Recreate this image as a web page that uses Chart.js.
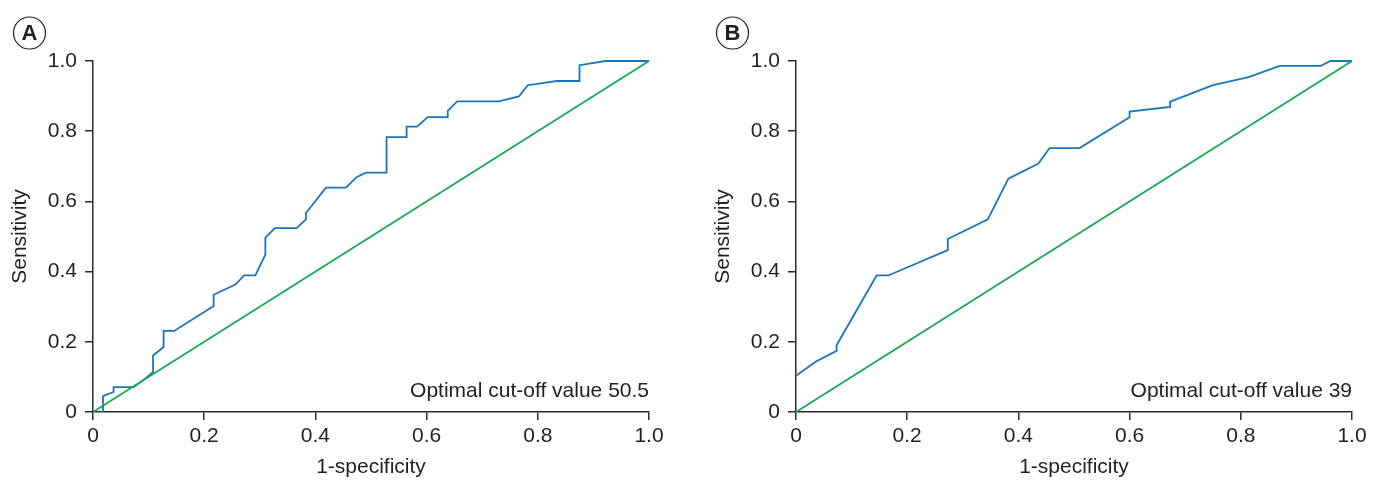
<!DOCTYPE html>
<html>
<head>
<meta charset="utf-8">
<script src="https://cdn.jsdelivr.net/npm/chart.js@4"></script>
<style>
  html, body { margin: 0; padding: 0; background: #fff; overflow: hidden; }
  #wrap { position: relative; width: 1382px; height: 480px; }
  canvas { position: absolute; top: 0; }
  #cA { left: 0; }
  #cB { left: 703px; }
</style>
</head>
<body>
<div id="wrap">
  <canvas id="cA" width="691" height="480"></canvas>
  <canvas id="cB" width="679" height="480"></canvas>
</div>
<script>
// ---- data ----
const tickValues = [0, 0.2, 0.4, 0.6, 0.8, 1.0];
const tickLabels = ['0', '0.2', '0.4', '0.6', '0.8', '1.0'];

const fprA = [0.018, 0.018, 0.037, 0.037, 0.073, 0.094, 0.108, 0.108, 0.127, 0.127, 0.146, 0.217, 0.217, 0.256, 0.272, 0.292, 0.310, 0.310, 0.327, 0.366, 0.383, 0.383, 0.419, 0.455, 0.474, 0.491, 0.528, 0.528, 0.564, 0.564, 0.583, 0.602, 0.638, 0.638, 0.655, 0.730, 0.766, 0.782, 0.834, 0.875, 0.875, 0.922, 1.0];
const tprA = [0, 0.045, 0.057, 0.071, 0.071, 0.095, 0.114, 0.161, 0.185, 0.231, 0.231, 0.302, 0.334, 0.363, 0.389, 0.389, 0.448, 0.497, 0.524, 0.524, 0.549, 0.567, 0.639, 0.639, 0.669, 0.682, 0.682, 0.783, 0.783, 0.813, 0.813, 0.840, 0.840, 0.858, 0.885, 0.885, 0.899, 0.931, 0.943, 0.943, 0.988, 1.0, 1.0];

const fprB = [0, 0.036, 0.073, 0.073, 0.145, 0.166, 0.273, 0.273, 0.345, 0.382, 0.436, 0.456, 0.510, 0.600, 0.600, 0.673, 0.673, 0.750, 0.814, 0.870, 0.944, 0.961, 1.0];
const tprB = [0.103, 0.144, 0.174, 0.190, 0.389, 0.389, 0.461, 0.493, 0.549, 0.665, 0.708, 0.752, 0.752, 0.840, 0.856, 0.869, 0.884, 0.931, 0.954, 0.986, 0.986, 1.0, 1.0];

const refX = [0, 1];
const refY = [0, 1];

const panelLetters = ['A', 'B'];
const cutoffTexts = ['Optimal cut-off value 50.5', 'Optimal cut-off value 39'];
const xTitle = '1-specificity';
const yTitle = 'Sensitivity';

// ---- style ----
const FONT = "'Liberation Sans', Arial, Helvetica, sans-serif";
const TEXT = '#231f20';
const AXIS = '#2b2b2b';
const BLUE = '#1b75bb';
const GREEN = '#14a84e';
const FS = 21;

function pts(xs, ys) { return xs.map((x, i) => ({ x: x, y: ys[i] })); }

function makeChart(id, fpr, tpr, letter, cutoff, rightPad) {
  const decor = {
    id: 'decor',
    afterDraw(chart) {
      const ctx = chart.ctx;
      const ca = chart.chartArea;
      ctx.save();
      // panel letter in circle
      ctx.beginPath();
      ctx.arc(29.5, 33, 16, 0, Math.PI * 2);
      ctx.lineWidth = 1.2;
      ctx.strokeStyle = TEXT;
      ctx.stroke();
      ctx.fillStyle = TEXT;
      ctx.font = "bold 22px " + FONT;
      ctx.textAlign = 'center';
      ctx.textBaseline = 'middle';
      ctx.fillText(letter, 29.5, 34);
      // cut-off annotation
      ctx.font = FS + "px " + FONT;
      ctx.textAlign = 'right';
      ctx.textBaseline = 'alphabetic';
      ctx.fillText(cutoff, ca.right, 397);
      ctx.restore();
    }
  };

  const axisCommon = {
    type: 'linear',
    min: 0, max: 1,
    grid: { display: true, drawOnChartArea: false, drawTicks: true, tickLength: 8, color: AXIS, lineWidth: 1.5 },
    border: { display: true, color: AXIS, width: 1.5 },
    afterBuildTicks(scale) { scale.ticks = tickValues.map(v => ({ value: v })); },
    ticks: {
      color: TEXT,
      font: { family: FONT, size: FS },
      callback: (v) => { const i = tickValues.indexOf(v); return i >= 0 ? tickLabels[i] : ''; }
    }
  };

  return new Chart(document.getElementById(id), {
    type: 'line',
    data: {
      datasets: [
        { data: pts(refX, refY), borderColor: GREEN, borderWidth: 1.7, pointRadius: 0, fill: false, tension: 0 },
        { data: pts(fpr, tpr), borderColor: BLUE, borderWidth: 1.8, pointRadius: 0, fill: false, tension: 0 }
      ]
    },
    options: {
      responsive: false,
      animation: false,
      clip: false,
      layout: { padding: { left: 0, top: 61, right: rightPad, bottom: 0 } },
      plugins: { legend: { display: false }, tooltip: { enabled: false } },
      scales: {
        x: Object.assign({}, axisCommon, {
          position: 'bottom',
          ticks: Object.assign({}, axisCommon.ticks, { padding: 4, maxRotation: 0, autoSkip: false }),
          title: { display: true, text: xTitle, color: TEXT, font: { family: FONT, size: FS }, padding: { top: 0, bottom: 0 } },
          afterFit(scale) { scale.height = 68; }
        }),
        y: Object.assign({}, axisCommon, {
          position: 'left',
          ticks: Object.assign({}, axisCommon.ticks, { padding: 8, autoSkip: false }),
          title: { display: true, text: yTitle, color: TEXT, font: { family: FONT, size: FS }, padding: { top: 8, bottom: 0 } },
          afterFit(scale) { scale.width = 93; }
        })
      }
    },
    plugins: [decor]
  });
}

makeChart('cA', fprA, tprA, panelLetters[0], cutoffTexts[0], 42);
makeChart('cB', fprB, tprB, panelLetters[1], cutoffTexts[1], 30);
</script>
</body>
</html>
